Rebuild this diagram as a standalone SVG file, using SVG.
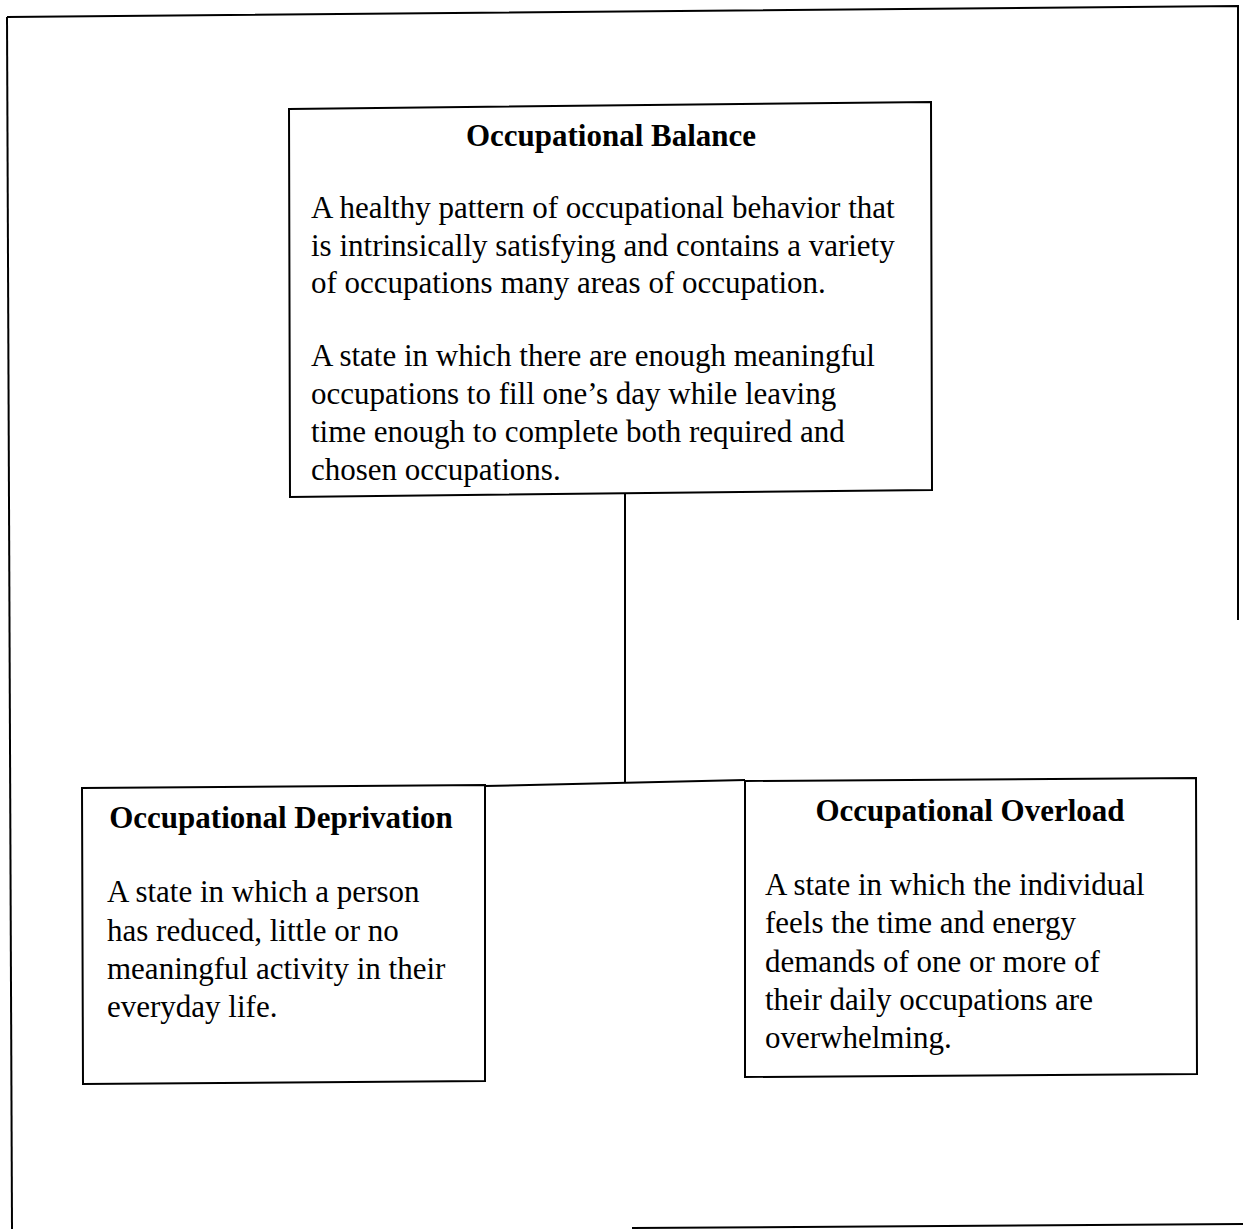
<svg xmlns="http://www.w3.org/2000/svg" width="1243" height="1229" viewBox="0 0 1243 1229">
<style>
.box{fill:#fff;stroke:#000;stroke-width:2}
.frame{fill:none;stroke:#000;stroke-width:2}
.conn{fill:none;stroke:#000;stroke-width:2}
text{font-family:"Liberation Serif","Times New Roman",serif;font-size:31px;fill:#000}
.t{font-weight:bold;text-anchor:middle}
</style>
<rect width="1243" height="1229" fill="#fff"/>
<g id="frame">
<path class="frame" d="M7,17 L1238,6 L1238,620"/>
<path class="frame" d="M7,17 L12,1229"/>
<path class="frame" d="M632,1228 L1243,1224"/>
</g>
<g id="connectors">
<path class="conn" d="M625,492 L625,783"/>
<path class="conn" d="M485,786 L745,780"/>
</g>
<g id="balance">
<polygon class="box" points="289,109 931,102 932,490 290,497"/>
<text class="t" x="611" y="146">Occupational Balance</text>
<text x="311" y="218">A healthy pattern of occupational behavior that</text>
<text x="311" y="256">is intrinsically satisfying and contains a variety</text>
<text x="311" y="293">of occupations many areas of occupation.</text>
<text x="311" y="366">A state in which there are enough meaningful</text>
<text x="311" y="404">occupations to fill one’s day while leaving</text>
<text x="311" y="442">time enough to complete both required and</text>
<text x="311" y="480">chosen occupations.</text>
</g>
<g id="deprivation">
<polygon class="box" points="82,788 485,785 485,1081 83,1084"/>
<text class="t" x="281" y="828">Occupational Deprivation</text>
<text x="107" y="902">A state in which a person</text>
<text x="107" y="941">has reduced, little or no</text>
<text x="107" y="979">meaningful activity in their</text>
<text x="107" y="1017">everyday life.</text>
</g>
<g id="overload">
<polygon class="box" points="745,781 1196,778 1197,1074 745,1077"/>
<text class="t" x="970" y="821">Occupational Overload</text>
<text x="765" y="895">A state in which the individual</text>
<text x="765" y="933">feels the time and energy</text>
<text x="765" y="972">demands of one or more of</text>
<text x="765" y="1010">their daily occupations are</text>
<text x="765" y="1048">overwhelming.</text>
</g>
</svg>
